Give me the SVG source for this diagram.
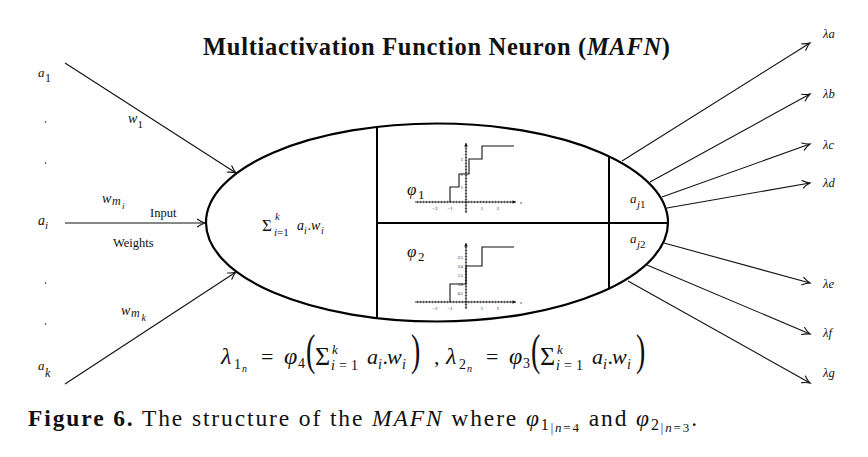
<svg xmlns="http://www.w3.org/2000/svg" width="868" height="457" viewBox="0 0 868 457">
<style>
text{font-family:"Liberation Serif","Times New Roman",serif;fill:#111}
.m{font-style:italic}
.conn line{stroke:#111;stroke-width:1.1;fill:none;marker-end:url(#arr)}
.shape{fill:none;stroke:#000;stroke-width:2.2}
.div{stroke:#000;stroke-width:2}
.ax{stroke:#111;stroke-width:0.9}
.tk{stroke:#111;stroke-width:2.4;stroke-dasharray:0.5 2.5}
.st{fill:none;stroke:#111;stroke-width:1.1}
.tl{font-size:4.6px;text-anchor:middle}
.yl{font-size:4.3px;text-anchor:end}
.dot{fill:#222}
</style>
<defs>
<marker id="arr" markerUnits="userSpaceOnUse" markerWidth="12" markerHeight="10" viewBox="-9 -5 10 10" refX="0" refY="0" orient="auto">
<path d="M-7.5,-3.8 C-4.5,-1.6 -1.8,-0.5 0,0 C-1.8,0.5 -4.5,1.6 -7.5,3.8" fill="none" stroke="#111" stroke-width="1.1" stroke-linecap="round"/>
</marker>
<marker id="sarr" markerUnits="userSpaceOnUse" markerWidth="5" markerHeight="5" viewBox="-4 -2.5 5 5" refX="0" refY="0" orient="auto">
<path d="M-3.5,-1.8 L0,0 L-3.5,1.8 Z" fill="#111"/>
</marker>
</defs>
<rect width="868" height="457" fill="#fff"/>

<g id="title">
<text x="203" y="55" font-size="24.5" font-weight="bold" textLength="467" lengthAdjust="spacing">Multiactivation Function Neuron (<tspan class="m">MAFN</tspan>)</text>
</g>

<g id="neuron">
<ellipse class="shape" cx="437" cy="222.5" rx="231" ry="99"/>
<line class="div" x1="377" y1="127" x2="377" y2="318"/>
<line class="div" x1="609" y1="157" x2="609" y2="288"/>
<line class="div" x1="377" y1="223" x2="668" y2="223"/>
<g id="sum-label" fill="#333">
<text x="262" y="231" font-size="17">Σ</text>
<text class="m" x="275" y="220" font-size="10.5">k</text>
<text x="274" y="236" font-size="11"><tspan class="m">i</tspan>=1</text>
<text class="m" x="297" y="230" font-size="14">a</text>
<text class="m" x="304" y="234" font-size="10">i</text>
<text x="307.5" y="230" font-size="14">.</text>
<text class="m" x="311" y="230" font-size="14">w</text>
<text class="m" x="321" y="234" font-size="10">i</text>
</g>
<g id="aj1">
<text class="m" x="630" y="203" font-size="13">a</text>
<text class="m" x="637" y="208" font-size="11">j<tspan font-style="normal">1</tspan></text>
</g>
<g id="aj2">
<text class="m" x="630" y="243" font-size="13">a</text>
<text class="m" x="637" y="248" font-size="11">j<tspan font-style="normal">2</tspan></text>
</g>
</g>

<g id="plot1">
<line class="ax" x1="415" y1="202" x2="516" y2="202" marker-end="url(#sarr)"/>
<line class="tk" x1="417" y1="202" x2="512" y2="202"/>
<line class="ax" x1="466" y1="213" x2="466" y2="143" marker-end="url(#sarr)"/>
<line class="tk" x1="466" y1="212" x2="466" y2="147"/>
<text class="tl" x="435" y="209.5">−2</text>
<text class="tl" x="450" y="209.5">−1</text>
<text class="tl" x="482" y="209.5">1</text>
<text class="tl" x="498" y="209.5">2</text>
<text class="tl" x="521" y="204">x</text>
<text class="yl" x="463" y="189">1</text>
<text class="yl" x="463" y="175.5">2</text>
<text class="yl" x="463" y="161">3</text>
<polyline class="st" points="450,202 450,187 459,187 459,174 469,174 469,159 482,159 482,146 514,146"/>
<text class="m" x="407" y="195" font-size="17">φ</text>
<text x="418" y="199" font-size="13">1</text>
</g>

<g id="plot2">
<line class="ax" x1="415" y1="302" x2="516" y2="302" marker-end="url(#sarr)"/>
<line class="tk" x1="417" y1="302" x2="512" y2="302"/>
<line class="ax" x1="466" y1="309" x2="466" y2="243" marker-end="url(#sarr)"/>
<line class="tk" x1="466" y1="308" x2="466" y2="247"/>
<text class="tl" x="435" y="309.5">−2</text>
<text class="tl" x="450" y="309.5">−1</text>
<text class="tl" x="482" y="309.5">1</text>
<text class="tl" x="498" y="309.5">2</text>
<text class="tl" x="521" y="304">x</text>
<text class="yl" x="463" y="294.5">0.5</text>
<text class="yl" x="463" y="285.5">1.0</text>
<text class="yl" x="463" y="276.5">1.5</text>
<text class="yl" x="463" y="267.5">2.0</text>
<text class="yl" x="463" y="258.5">2.5</text>
<polyline class="st" points="450,302 450,284 466,284 466,266 482,266 482,247 514,247"/>
<text class="m" x="407" y="257" font-size="17">φ</text>
<text x="418" y="261" font-size="13">2</text>
</g>

<g id="inputs">
<g id="in-a1"><text class="m" x="38" y="77" font-size="13">a</text><text x="45" y="82" font-size="12">1</text></g>
<circle class="dot" cx="45.5" cy="122" r="0.8"/>
<circle class="dot" cx="45.5" cy="163" r="0.8"/>
<g id="in-ai"><text class="m" x="38" y="225" font-size="14">a</text><text class="m" x="45" y="229" font-size="11">i</text></g>
<circle class="dot" cx="45.5" cy="283" r="0.8"/>
<circle class="dot" cx="45.5" cy="324" r="0.8"/>
<g id="in-ak"><text class="m" x="38" y="370" font-size="13">a</text><text class="m" x="45" y="377" font-size="12">k</text></g>
</g>

<g id="conn" class="conn">
<line x1="65" y1="63" x2="236" y2="173"/>
<line x1="65" y1="223" x2="205" y2="223"/>
<line x1="65" y1="384" x2="236" y2="272"/>
<line x1="622" y1="161" x2="810" y2="43"/>
<line x1="650" y1="182" x2="810" y2="94"/>
<line x1="662" y1="197" x2="810" y2="144"/>
<line x1="667" y1="208" x2="810" y2="183"/>
<line x1="664" y1="243" x2="810" y2="283"/>
<line x1="647" y1="265" x2="810" y2="334"/>
<line x1="628" y1="281" x2="810" y2="383"/>
</g>

<g id="weight-labels">
<text class="m" x="128" y="123" font-size="14">w</text><text x="137.5" y="128" font-size="11">1</text>
<text class="m" x="102" y="203" font-size="14">w</text><text class="m" x="112" y="205" font-size="12">m</text><text class="m" x="122" y="208.5" font-size="9">i</text>
<text x="150" y="217" font-size="12.5">Input</text>
<text x="113" y="247" font-size="12.5">Weights</text>
<text class="m" x="121" y="315" font-size="14">w</text><text class="m" x="131" y="317" font-size="12">m</text><text class="m" x="141.5" y="320.5" font-size="10">k</text>
</g>

<g id="outputs" font-size="12.5">
<text class="m" x="823" y="38">λa</text>
<text class="m" x="823" y="98">λb</text>
<text class="m" x="823" y="149">λc</text>
<text class="m" x="823" y="187">λd</text>
<text class="m" x="823" y="288">λe</text>
<text class="m" x="823" y="337">λf</text>
<text class="m" x="823" y="377">λg</text>
</g>

<g id="formula">
<g transform="translate(221,364)">
<text class="m" x="0" y="0" font-size="24">λ</text>
<text x="13" y="5" font-size="14">1</text>
<text class="m" x="21" y="8" font-size="10">n</text>
<text x="40" y="0" font-size="22">=</text>
<text class="m" x="63" y="0" font-size="24">φ</text>
<text x="77" y="4" font-size="14">4</text>
<text transform="translate(85,1) scale(1,1.6)" font-size="28">(</text>
<text x="94" y="1" font-size="26">Σ</text>
<text class="m" x="111" y="-10" font-size="13">k</text>
<text x="110" y="6" font-size="14" textLength="27" lengthAdjust="spacing"><tspan class="m">i</tspan>=1</text>
<text class="m" x="146" y="0" font-size="22">a</text>
<text class="m" x="157" y="5" font-size="14">i</text>
<text x="161.5" y="0" font-size="22">.</text>
<text class="m" x="166" y="0" font-size="22">w</text>
<text class="m" x="181" y="5" font-size="14">i</text>
<text transform="translate(190,1) scale(1,1.6)" font-size="28">)</text>
</g>
<text x="434" y="364" font-size="22">,</text>
<g transform="translate(446,364)">
<text class="m" x="0" y="0" font-size="24">λ</text>
<text x="13" y="5" font-size="14">2</text>
<text class="m" x="21" y="8" font-size="10">n</text>
<text x="40" y="0" font-size="22">=</text>
<text class="m" x="63" y="0" font-size="24">φ</text>
<text x="77" y="4" font-size="14">3</text>
<text transform="translate(85,1) scale(1,1.6)" font-size="28">(</text>
<text x="94" y="1" font-size="26">Σ</text>
<text class="m" x="111" y="-10" font-size="13">k</text>
<text x="110" y="6" font-size="14" textLength="27" lengthAdjust="spacing"><tspan class="m">i</tspan>=1</text>
<text class="m" x="146" y="0" font-size="22">a</text>
<text class="m" x="157" y="5" font-size="14">i</text>
<text x="161.5" y="0" font-size="22">.</text>
<text class="m" x="166" y="0" font-size="22">w</text>
<text class="m" x="181" y="5" font-size="14">i</text>
<text transform="translate(190,1) scale(1,1.6)" font-size="28">)</text>
</g>
</g>

<g id="caption">
<text x="28" y="426" font-size="23.5" textLength="669" lengthAdjust="spacing"><tspan font-weight="bold">Figure 6.</tspan> The structure of the <tspan class="m">MAFN</tspan> where <tspan class="m">φ</tspan><tspan font-size="16" dy="4">1</tspan><tspan font-size="12" dy="2">|</tspan><tspan font-size="13" class="m">n</tspan><tspan font-size="13">=4</tspan><tspan dy="-6"> and </tspan><tspan class="m">φ</tspan><tspan font-size="16" dy="4">2</tspan><tspan font-size="12" dy="2">|</tspan><tspan font-size="13" class="m">n</tspan><tspan font-size="13">=3</tspan><tspan dy="-6">.</tspan></text>
</g>
</svg>
